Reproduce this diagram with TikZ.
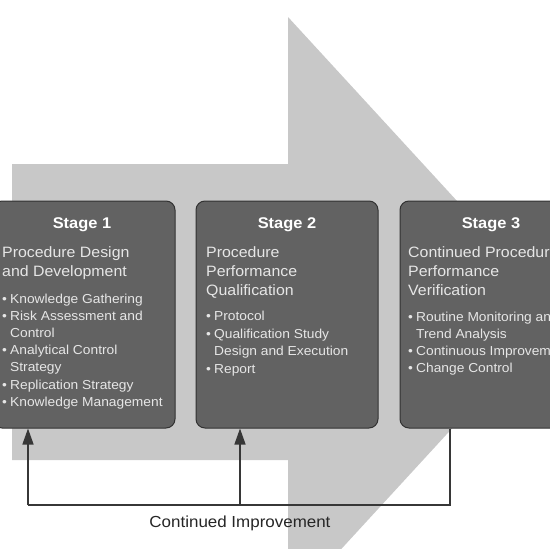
\documentclass[tikz,border=0pt]{standalone}
\usepackage{fontspec}
\setmainfont{Liberation Sans}[FakeStretch=1.06]
\usetikzlibrary{arrows.meta}
\definecolor{arrowbg}{RGB}{200,200,200}
\definecolor{boxfill}{RGB}{98,98,98}
\definecolor{boxline}{RGB}{50,50,50}
\definecolor{boxtext}{RGB}{230,230,230}
\definecolor{conncol}{RGB}{55,55,55}
\newcommand\bu{\makebox[8pt][l]{•}}
\newcommand\ct{\hspace*{8pt}}
\tikzset{
  stagebox/.style={draw=boxline, fill=boxfill, line width=1pt, rounded corners=9pt,
    minimum width=182pt, minimum height=227pt, inner sep=0pt},
  stagehead/.style={text=white, font=\fontsize{15.5}{18}\selectfont\bfseries, inner sep=0pt, anchor=base},
  stagetitle/.style={text=boxtext, font=\fontsize{15}{18}\selectfont, inner sep=0pt, anchor=base west},
  bulletline/.style={text=boxtext, font=\fontsize{13}{15}\selectfont, inner sep=0pt, anchor=base west},
  conn/.style={draw=conncol, line width=1.3pt},
  tipped/.style={-{Triangle[length=16pt,width=11pt]}},
  caption/.style={text=black!85, font=\fontsize{16}{18}\selectfont, inner sep=0pt, anchor=base}
}
\begin{document}
\begin{tikzpicture}[x=1pt,y=-1pt]
\useasboundingbox (0,0) rectangle (550,549);
\fill[white] (0,0) rectangle (550,549);
\clip (0,0) rectangle (550,549);
% big background arrow
\fill[arrowbg] (12,164) -- (288,164) -- (288,17) -- (559,312) -- (288,607) -- (288,460) -- (12,460) -- cycle;
% stage boxes
\node[stagebox] (s1) at (84,314.5) {};
\node[stagebox] (s2) at (287,314.5) {};
\node[stagebox] (s3) at (491,314.5) {};
% headings
\node[stagehead] (h1) at (82,228) {Stage 1};
\node[stagehead] (h2) at (287,228) {Stage 2};
\node[stagehead] (h3) at (491,228) {Stage 3};
% titles
\foreach \t [count=\i] in {Procedure Design, and Development}
  \node[stagetitle] (t1-\i) at (2,{257+(\i-1)*19}) {\t};
\foreach \t [count=\i] in {Procedure, Performance, Qualification}
  \node[stagetitle] (t2-\i) at (206,{257+(\i-1)*19}) {\t};
\foreach \t [count=\i] in {Continued Procedure, Performance, Verification}
  \node[stagetitle] (t3-\i) at (408,{257+(\i-1)*19}) {\t};
% bullets
\foreach \t [count=\i] in {\bu Knowledge Gathering, \bu Risk Assessment and, \ct Control,
    \bu Analytical Control, \ct Strategy, \bu Replication Strategy, \bu Knowledge Management}
  \node[bulletline] (b1-\i) at (2,{303+(\i-1)*17.2}) {\t};
\foreach \t [count=\i] in {\bu Protocol, \bu Qualification Study, \ct Design and Execution, \bu Report}
  \node[bulletline] (b2-\i) at (206,{320.5+(\i-1)*17.6}) {\t};
\foreach \t [count=\i] in {\bu Routine Monitoring and, \ct Trend Analysis, \bu Continuous Improvement, \bu Change Control}
  \node[bulletline] (b3-\i) at (408,{321+(\i-1)*17.3}) {\t};
% continued improvement loop
\coordinate (c1) at (28,505);
\coordinate (c2) at (240,505);
\coordinate (c3) at (450,505);
\draw[conn] (c3 |- s3.south) -- (c3) -- (c1);
\draw[conn,tipped] (c1) -- (c1 |- s1.south);
\draw[conn,tipped] (c2) -- (c2 |- s2.south);
\node[caption] (lbl) at (240,527) {Continued Improvement};
\end{tikzpicture}
\end{document}
